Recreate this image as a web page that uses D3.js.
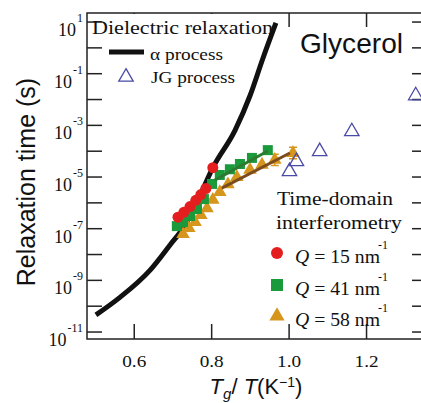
<!DOCTYPE html>
<meta charset="utf-8">
<style>
	body { margin: 0; background: #fff; }
	.serif { font-family: "Liberation Serif", "Times New Roman", serif; fill: #111; }
	.sans { font-family: "Liberation Sans", Arial, sans-serif; fill: #111; }
</style>
<svg width="421" height="403"></svg>
<script src="https://cdn.jsdelivr.net/npm/d3@7"></script>
<script>

// Tg/T values and relaxation times (s)
var alphaX   = [0.501, 0.563, 0.641, 0.692, 0.731, 0.770, 0.803, 0.860, 0.899, 0.932, 0.966];
var alphaTau = [4.6e-11, 2.2e-10, 2.5e-9, 2.3e-8, 1.35e-7, 1.95e-6, 2.3e-5, 6.3e-4, 1.4e-2, 0.38, 9.3];

var jgX   = [1.001, 1.019, 1.079, 1.162, 1.327];
var jgTau = [1.8e-5, 4.4e-5, 1.07e-4, 6.3e-4, 1.55e-2];

var q15X   = [0.713, 0.728, 0.744, 0.759, 0.772, 0.785, 0.803];
var q15Tau = [2.8e-7, 4.3e-7, 7.2e-7, 1.26e-6, 2.1e-6, 3.6e-6, 2.3e-5];

var q41X   = [0.710, 0.726, 0.744, 0.762, 0.780, 0.801, 0.821, 0.847, 0.873, 0.904, 0.945];
var q41Tau = [1.26e-7, 1.8e-7, 3.1e-7, 5.8e-7, 1.4e-6, 5.4e-6, 1.2e-5, 2.0e-5, 3.2e-5, 5.5e-5, 1.1e-4];

var q58X   = [0.726, 0.741, 0.757, 0.772, 0.788, 0.803, 0.821, 0.842, 0.865, 0.899, 0.930, 0.963, 1.010];
var q58Tau = [6.2e-8, 1.05e-7, 1.8e-7, 3.4e-7, 6.2e-7, 1.3e-6, 2.6e-6, 5.2e-6, 1.0e-5, 1.9e-5, 3.0e-5, 4.6e-5, 8.5e-5];
var q58Err = [0, 0, 0, 0, 0, 0, 0, 0, 0, 0, 0, 0.22, 0.22]; // in decades

var fit41X = [0.808, 0.945], fit41Tau = [7.6e-6, 1.02e-4];
var fit58X = [0.826, 1.002], fit58Tau = [3.7e-6, 8.5e-5];

var xTicks = [0.6, 0.8, 1.0, 1.2];
var yTicks = [1e1, 1e0, 1e-1, 1e-2, 1e-3, 1e-4, 1e-5, 1e-6, 1e-7, 1e-8, 1e-9, 1e-10, 1e-11];
var yLabelExp = [1, -1, -3, -5, -7, -9, -11];
var qLabels = ["15", "41", "58"];

var svg = d3.select("svg"),
	pLeft = 87, pRight = 425, pTop = 13, pBottom = 339;

var x = d3.scaleLinear().domain([0.478, 1.351]).range([pLeft, pRight]),
	y = d3.scaleLog().domain([Math.pow(10, -11.27), Math.pow(10, 1.35)]).range([pBottom, pTop]);

function pts(xs, ts) { return xs.map(function(v, i) { return {x: v, t: ts[i], i: i}; }); }

var red = "#e41e1e", green = "#1b9a3c", orange = "#d6961c", jgCol = "#4a4aa8";

// ticks
var ax = svg.append("g").attr("stroke", "#222").attr("stroke-width", 1.5);
ax.selectAll(".xb").data(xTicks).enter().append("line")
	.attr("x1", function(d) { return x(d); }).attr("x2", function(d) { return x(d); })
	.attr("y1", pBottom).attr("y2", pBottom - 15);
ax.selectAll(".xt").data(xTicks).enter().append("line")
	.attr("x1", function(d) { return x(d); }).attr("x2", function(d) { return x(d); })
	.attr("y1", pTop).attr("y2", pTop + 14);
ax.selectAll(".yl").data(yTicks).enter().append("line")
	.attr("x1", pLeft).attr("x2", pLeft + 15)
	.attr("y1", function(d) { return y(d); }).attr("y2", function(d) { return y(d); });
ax.selectAll(".yr").data(yTicks).enter().append("line")
	.attr("x1", pRight).attr("x2", pRight - 13)
	.attr("y1", function(d) { return y(d); }).attr("y2", function(d) { return y(d); });

// legend background hides top ticks
svg.append("rect").attr("x", 102).attr("y", pTop + 1).attr("width", 160).attr("height", 76).attr("fill", "#fff");

ax.append("path").attr("fill", "none")
	.attr("d", "M" + pRight + "," + pTop + "H" + pLeft + "V" + pBottom + "H" + pRight);

// tick labels
svg.selectAll(".xlab").data(xTicks).enter().append("text")
	.attr("class", "serif").attr("font-size", 17)
	.attr("x", function(d) { return x(d) - 12; }).attr("y", 367)
	.attr("textLength", 24).attr("lengthAdjust", "spacingAndGlyphs")
	.text(d3.format(".1f"));

var yl = svg.selectAll(".ylab").data(yLabelExp).enter().append("text")
	.attr("class", "serif").attr("font-size", 18)
	.attr("x", 83).attr("y", function(d) { return y(Math.pow(10, d)) + 14; })
	.attr("text-anchor", "end");
yl.append("tspan").text("10");
yl.append("tspan").attr("font-size", 12).attr("dx", 1).attr("dy", -14)
	.text(function(d) { return d < 0 ? "-" + (-d) : d; });

// axis titles
svg.append("text").attr("class", "sans").attr("font-size", 25)
	.attr("transform", "translate(35,182) rotate(-90)")
	.attr("text-anchor", "middle").text("Relaxation time (s)");

var xt = svg.append("text").attr("class", "sans").attr("font-size", 22)
	.attr("x", 256).attr("y", 394).attr("text-anchor", "middle");
xt.append("tspan").attr("font-style", "italic").text("T");
xt.append("tspan").attr("font-style", "italic").attr("font-size", 15).attr("dy", 5).text("g");
xt.append("tspan").attr("dy", -5).text("/ ");
xt.append("tspan").attr("font-style", "italic").text("T");
xt.append("tspan").text("(K");
xt.append("tspan").attr("font-size", 14).attr("dy", -7).text("\u22121");
xt.append("tspan").attr("dy", 7).text(")");

// data
var g = svg.append("g");
var line = d3.line()
	.x(function(d) { return x(d.x); })
	.y(function(d) { return y(d.t); });

g.append("path").datum(pts(alphaX, alphaTau))
	.attr("fill", "none").attr("stroke", "#111").attr("stroke-width", 5)
	.attr("d", line.curve(d3.curveMonotoneX));
line.curve(d3.curveLinear);

var tri = d3.symbol().type(d3.symbolTriangle);

g.selectAll(".q58").data(pts(q58X, q58Tau)).enter().append("path")
	.attr("transform", function(d) { return "translate(" + x(d.x) + "," + y(d.t) + ")"; })
	.attr("d", tri.size(80)()).attr("fill", orange);

g.selectAll(".q58e").data(pts(q58X, q58Tau).filter(function(d) { return q58Err[d.i] > 0; })).enter()
	.append("path").attr("fill", "none").attr("stroke", orange).attr("stroke-width", 1.5)
	.attr("d", function(d) {
		var cx = x(d.x), y0 = y(d.t * Math.pow(10, q58Err[d.i])), y1 = y(d.t / Math.pow(10, q58Err[d.i]));
		return "M" + (cx - 4) + "," + y0 + "H" + (cx + 4) + "M" + cx + "," + y0 + "V" + y1 + "M" + (cx - 4) + "," + y1 + "H" + (cx + 4);
	});

g.selectAll(".q41").data(pts(q41X, q41Tau)).enter().append("rect")
	.attr("x", function(d) { return x(d.x) - 5; }).attr("y", function(d) { return y(d.t) - 5; })
	.attr("width", 10).attr("height", 10).attr("fill", green);

g.selectAll(".q15").data(pts(q15X, q15Tau)).enter().append("circle")
	.attr("cx", function(d) { return x(d.x); }).attr("cy", function(d) { return y(d.t); })
	.attr("r", 5.5).attr("fill", red);

g.append("path").datum(pts(fit41X, fit41Tau)).attr("stroke", "#2c7a30").attr("stroke-width", 3).attr("d", line);
g.append("path").datum(pts(fit58X, fit58Tau)).attr("stroke", "#7a4c1e").attr("stroke-width", 3).attr("d", line);

g.selectAll(".jg").data(pts(jgX, jgTau)).enter().append("path")
	.attr("transform", function(d) { return "translate(" + x(d.x) + "," + (y(d.t) + 1) + ")"; })
	.attr("d", tri.size(90)()).attr("fill", "none").attr("stroke", jgCol).attr("stroke-width", 1.3);

// legends
function label(cls, size, px, py, w, txt) {
	return svg.append("text").attr("class", cls).attr("font-size", size)
		.attr("x", px).attr("y", py)
		.attr("textLength", w).attr("lengthAdjust", "spacingAndGlyphs").text(txt);
}

label("serif", 19, 92, 34, 181, "Dielectric relaxation");
svg.append("line").attr("x1", 109).attr("x2", 144).attr("y1", 52).attr("y2", 52).attr("stroke", "#111").attr("stroke-width", 5);
label("serif", 17, 150, 60, 73, "\u03b1 process");
svg.append("path").attr("transform", "translate(126,77)").attr("d", tri.size(90)())
	.attr("fill", "none").attr("stroke", jgCol).attr("stroke-width", 1.3);
label("serif", 17, 151, 83, 84, "JG process");

label("sans", 28, 300, 53, 103, "Glycerol");

label("serif", 19, 277, 205, 116, "Time-domain");
label("serif", 19, 276, 229, 126, "interferometry");

var qY = [253, 285, 316];
svg.append("circle").attr("cx", 277).attr("cy", qY[0]).attr("r", 6).attr("fill", red);
svg.append("rect").attr("x", 271).attr("y", qY[1] - 6).attr("width", 12).attr("height", 12).attr("fill", green);
svg.append("path").attr("transform", "translate(277," + qY[2] + ")").attr("d", tri.size(100)()).attr("fill", orange);
var ql = svg.selectAll(".ql").data(qLabels).enter().append("text")
	.attr("class", "serif").attr("font-size", 18).attr("x", 295)
	.attr("y", function(d, i) { return qY[i] + 10; })
	.attr("textLength", 85).attr("lengthAdjust", "spacingAndGlyphs");
ql.append("tspan").attr("font-style", "italic").text("Q");
ql.append("tspan").text(function(d) { return " = " + d + " nm"; });
svg.selectAll(".qs").data(qLabels).enter().append("text")
	.attr("class", "serif").attr("font-size", 12).attr("x", 378)
	.attr("y", function(d, i) { return qY[i] - 4; }).text("-1");

</script>
